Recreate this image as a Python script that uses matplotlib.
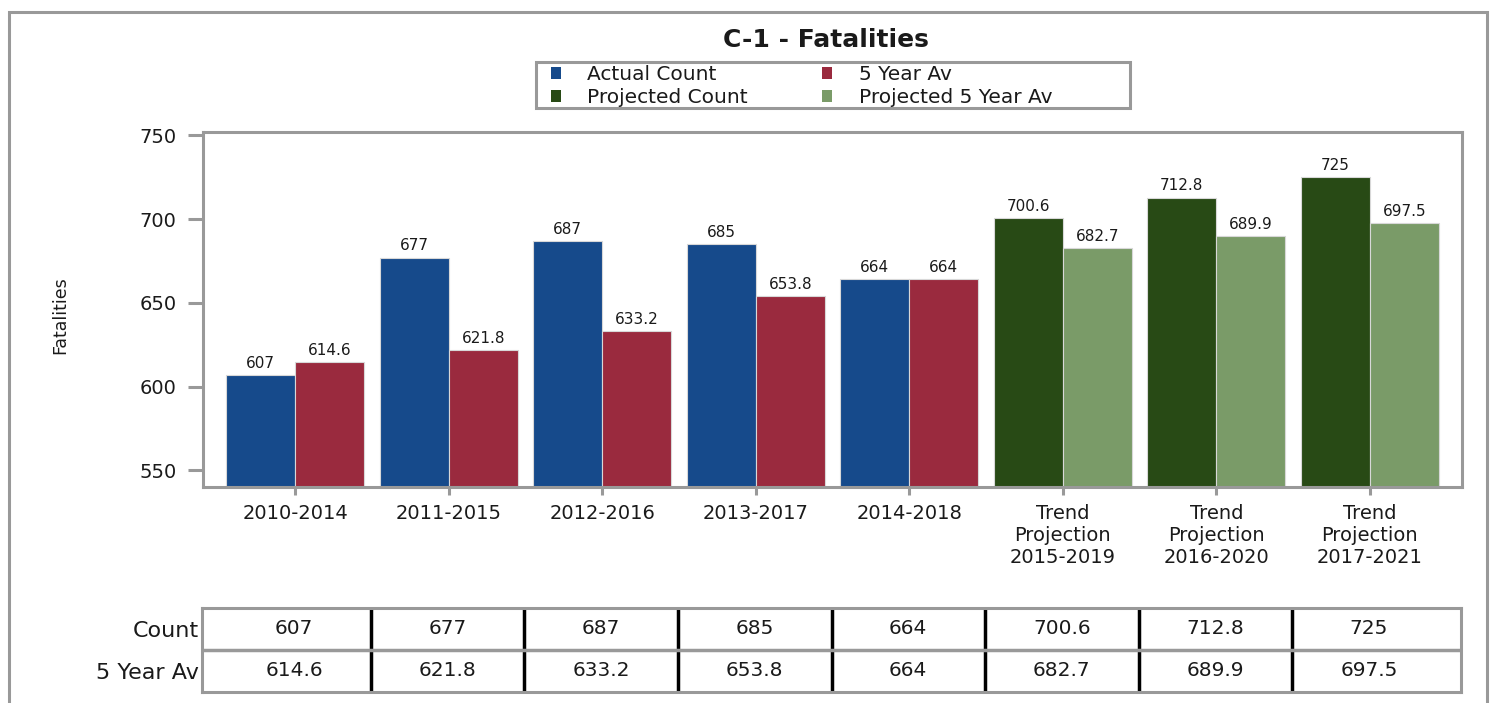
import matplotlib
matplotlib.use("Agg")
import matplotlib.pyplot as plt
from matplotlib.patches import Patch, Rectangle
import numpy as np

plt.rcParams['font.family'] = ['DejaVu Sans']

categories = ["2010-2014", "2011-2015", "2012-2016", "2013-2017", "2014-2018",
              "Trend\nProjection\n2015-2019", "Trend\nProjection\n2016-2020",
              "Trend\nProjection\n2017-2021"]
count_vals = [607, 677, 687, 685, 664, 700.6, 712.8, 725]
avg_vals = [614.6, 621.8, 633.2, 653.8, 664, 682.7, 689.9, 697.5]
count_labels = ["607", "677", "687", "685", "664", "700.6", "712.8", "725"]
avg_labels = ["614.6", "621.8", "633.2", "653.8", "664", "682.7", "689.9", "697.5"]
projected = [False, False, False, False, False, True, True, True]
yticks = [550, 600, 650, 700, 750]

C_ACT = "#164a8b"
C_AVG = "#9a2a3e"
C_PCT = "#284a15"
C_PAV = "#7a9b68"
GRAY = "#999999"
TXT = "#1a1a1a"

W, H = 1492, 703
fig = plt.figure(figsize=(W / 100, H / 100), dpi=100)
fig.patch.set_facecolor("white")

def fx(px):
    return px / W

def fy(py):
    return 1 - py / H

ax = fig.add_axes([fx(203), fy(487), fx(1462) - fx(203), fy(132) - fy(487)])

x = np.arange(len(categories))
bw = 0.45
proj = np.array(projected)
cnt = np.array(count_vals, dtype=float)
avg = np.array(avg_vals, dtype=float)

series = [
    (x[~proj] - bw / 2, cnt[~proj], C_ACT, "Actual Count", [l for l, p in zip(count_labels, projected) if not p]),
    (x[~proj] + bw / 2, avg[~proj], C_AVG, "5 Year Av", [l for l, p in zip(avg_labels, projected) if not p]),
    (x[proj] - bw / 2, cnt[proj], C_PCT, "Projected Count", [l for l, p in zip(count_labels, projected) if p]),
    (x[proj] + bw / 2, avg[proj], C_PAV, "Projected 5 Year Av", [l for l, p in zip(avg_labels, projected) if p]),
]
ymin = 540
for xs, vals, col, lab, labs in series:
    bars = ax.bar(xs, vals - ymin, bottom=ymin, width=bw, color=col,
                  edgecolor="#d8d8d8", linewidth=0.8, label=lab, zorder=2)
    ax.bar_label(bars, labels=labs, padding=3, fontsize=11, color=TXT)

ax.set_xlim(-0.6, len(categories) - 0.4)
ax.set_ylim(ymin, 752)
ax.set_yticks(yticks)
ax.set_yticklabels([str(t) for t in yticks], fontsize=14, color=TXT)
ax.set_xticks(x)
ax.set_xticklabels(categories, fontsize=14, color=TXT, linespacing=1.2)
ax.tick_params(axis="y", length=11, width=2.2, color=GRAY, pad=8)
ax.tick_params(axis="x", length=6, width=2.2, color=GRAY, pad=6)
for s in ax.spines.values():
    s.set_color(GRAY)
    s.set_linewidth(2.2)

fig.text(fx(60), fy(315), "Fatalities", rotation=90, ha="center", va="center",
         fontsize=12.5, color=TXT)

fig.text(fx(826), fy(40), "C-1 - Fatalities", ha="center", va="center",
         fontsize=18, fontweight="bold", color=TXT)

handles = [Patch(facecolor=C_ACT), Patch(facecolor=C_PCT),
           Patch(facecolor=C_AVG), Patch(facecolor=C_PAV)]
labels = ["Actual Count", "Projected Count", "5 Year Av", "Projected 5 Year Av"]
leg = fig.legend(handles, labels, ncol=2,
                 bbox_to_anchor=(fx(551), fy(86)),
                 loc="center left", fontsize=14.5, frameon=False,
                 handlelength=0.5, handleheight=0.5, handletextpad=1.3,
                 borderpad=0, labelspacing=0.2, borderaxespad=0,
                 columnspacing=3.7)
for t in leg.get_texts():
    t.set_color(TXT)
fig.add_artist(Rectangle((fx(536), fy(108)), fx(1130) - fx(536), fy(62) - fy(108),
                         transform=fig.transFigure, fill=False,
                         edgecolor=GRAY, linewidth=2.2))

# table
axt = fig.add_axes([fx(202), fy(692), fx(1461) - fx(202), fy(608) - fy(692)])
axt.set_xlim(ax.get_xlim())
axt.set_ylim(0, 2)
for i in range(len(categories)):
    axt.text(x[i], 1.5, count_labels[i], ha="center", va="center", fontsize=14.5, color=TXT)
    axt.text(x[i], 0.5, avg_labels[i], ha="center", va="center", fontsize=14.5, color=TXT)
for i in range(len(categories) - 1):
    axt.axvline(x[i] + 0.5, color="black", linewidth=2.5)
axt.axhline(1, color=GRAY, linewidth=2.5)
axt.set_xticks([])
axt.set_yticks([1.5, 0.5])
axt.set_yticklabels(["Count", "5 Year Av"], fontsize=16, color=TXT)
axt.tick_params(axis="y", length=0, pad=2)
for s in axt.spines.values():
    s.set_color(GRAY)
    s.set_linewidth(2.2)

# outer frame
fig.add_artist(Rectangle((fx(9), -0.05), fx(1487) - fx(9), fy(12) + 0.05,
                         transform=fig.transFigure, fill=False,
                         edgecolor=GRAY, linewidth=2.2))

fig.savefig("out.png", dpi=100, facecolor="white")
